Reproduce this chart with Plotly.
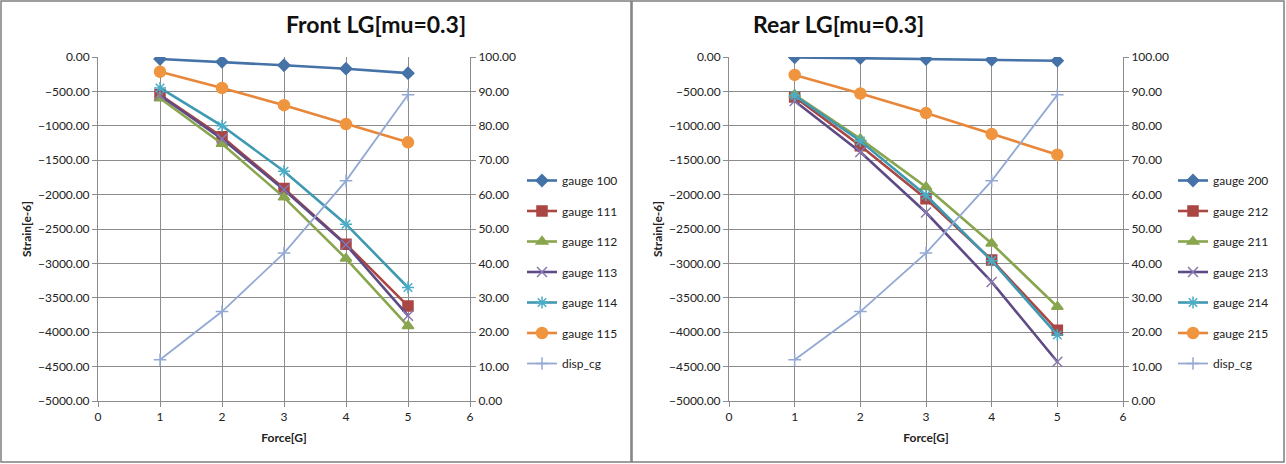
import plotly.graph_objects as go

W, H = 1286, 464

force = [1, 2, 3, 4, 5]

# Front LG
front_names = ["gauge 100", "gauge 111", "gauge 112", "gauge 113", "gauge 114", "gauge 115"]
front_g100 = [-30, -70, -120, -170, -235]
front_g111 = [-550, -1160, -1910, -2720, -3620]
front_g112 = [-600, -1260, -2040, -2930, -3910]
front_g113 = [-560, -1190, -1930, -2730, -3760]
front_g114 = [-450, -1000, -1660, -2430, -3350]
front_g115 = [-215, -450, -700, -975, -1240]
front_disp = [12, 26, 43, 64, 89]

# Rear LG
rear_names = ["gauge 200", "gauge 212", "gauge 211", "gauge 213", "gauge 214", "gauge 215"]
rear_g200 = [-5, -15, -30, -40, -55]
rear_g212 = [-580, -1290, -2060, -2950, -3970]
rear_g211 = [-550, -1190, -1890, -2710, -3630]
rear_g213 = [-640, -1380, -2260, -3270, -4430]
rear_g214 = [-560, -1220, -2010, -2960, -4040]
rear_g215 = [-260, -530, -815, -1120, -1420]
rear_disp = [12, 26, 43, 64, 89]

line_colors = ["#4572A7", "#AA4643", "#89A54E", "#5E4A85", "#3F99B1", "#E8873A"]
marker_colors = ["#4572A7", "#AA4643", "#89A54E", "#8A78B0", "#4BACC6", "#F0953F"]
symbols = ["diamond", "square", "triangle-up", "x-thin-open", "asterisk-open", "circle"]
sizes = [9, 10, 10, 10, 10, 11]
disp_color = "#93A9D3"

FONT = "Lato"

fig = go.Figure()


def add_chart(names, series, disp, xa, ya, ya2, legend):
    for i, (nm, vals) in enumerate(zip(names, series)):
        fig.add_trace(go.Scatter(
            x=force, y=vals, name=nm, mode="lines+markers",
            xaxis=xa, yaxis=ya, legend=legend, legendgroup=legend + nm,
            line=dict(color=line_colors[i], width=2.6),
            marker=dict(symbol=symbols[i], size=sizes[i], color=marker_colors[i],
                        line=dict(color=marker_colors[i], width=1.5)),
        ))
    fig.add_trace(go.Scatter(
        x=force, y=disp, name="disp_cg", mode="lines+markers",
        xaxis=xa, yaxis=ya2, legend=legend, legendgroup=legend + "disp",
        line=dict(color=disp_color, width=1.8),
        marker=dict(symbol="cross-thin-open", size=9, color=disp_color,
                    line=dict(color=disp_color, width=1.5)),
    ))


add_chart(front_names, [front_g100, front_g111, front_g112, front_g113, front_g114, front_g115],
          front_disp, "x", "y", "y2", "legend")
add_chart(rear_names, [rear_g200, rear_g212, rear_g211, rear_g213, rear_g214, rear_g215],
          rear_disp, "x2", "y3", "y4", "legend2")

grid = "#8C8C8C"
tickfont = dict(family=FONT, size=12, color="#222")
ytop, ybot = 1 - 57 / H, 1 - 401 / H


def xaxis(dom, anchor):
    return dict(domain=dom, anchor=anchor, range=[0, 6], dtick=1, tick0=0, automargin=False,
                showgrid=True, gridcolor=grid, gridwidth=1, zeroline=False,
                showline=True, linecolor=grid, linewidth=1,
                ticks="outside", ticklen=5, tickcolor=grid,
                tickfont=tickfont,
                title=dict(text="<b>Force[G]</b>", font=dict(family=FONT, size=12, color="#222"), standoff=10))


def yleft(anchor):
    return dict(domain=[ybot, ytop], anchor=anchor, range=[-5000, 0], dtick=500, automargin=False,
                tickformat=".2f", showgrid=True, gridcolor=grid, gridwidth=1,
                zeroline=False, showline=True, linecolor=grid, linewidth=1,
                ticks="outside", ticklen=5, tickcolor=grid, tickfont=tickfont,
                title=dict(text="<b>Strain[e-6]</b>", font=dict(family=FONT, size=12, color="#222"), standoff=3))


def yright(anchor, overlay):
    return dict(domain=[ybot, ytop], anchor=anchor, overlaying=overlay, side="right", automargin=False,
                range=[0, 100], dtick=10, tickformat=".2f", showgrid=False,
                zeroline=False, showline=True, linecolor=grid, linewidth=1,
                ticks="outside", ticklen=5, tickcolor=grid, tickfont=tickfont)


legend_common = dict(font=dict(family=FONT, size=12, color="#222"), tracegroupgap=11.5,
                     bgcolor="rgba(0,0,0,0)", itemwidth=30, xanchor="left", yanchor="top")

fig.update_layout(
    width=W, height=H, margin=dict(l=0, r=0, t=0, b=0, autoexpand=False),
    paper_bgcolor="white", plot_bgcolor="white",
    xaxis=xaxis([98 / W, 470 / W], "y"),
    yaxis=yleft("x"),
    yaxis2=yright("x", "y"),
    xaxis2=xaxis([729 / W, 1123 / W], "y3"),
    yaxis3=yleft("x2"),
    yaxis4=yright("x2", "y3"),
    legend=dict(x=522 / W, y=1 - 166 / H, **legend_common),
    legend2=dict(x=1173 / W, y=1 - 166 / H, **legend_common),
    annotations=[
        dict(text="<b>Front LG[mu=0.3]</b>", x=284 / W, y=1 - 24 / H, xref="paper", yref="paper",
             showarrow=False, font=dict(family=FONT, size=23, color="#111"), yanchor="middle"),
        dict(text="<b>Rear LG[mu=0.3]</b>", x=926 / W, y=1 - 24 / H, xref="paper", yref="paper",
             showarrow=False, font=dict(family=FONT, size=23, color="#111"), yanchor="middle"),
    ],
    shapes=[
        dict(type="rect", xref="paper", yref="paper", x0=1 / W, x1=631 / W, y0=1 - 462 / H, y1=1 - 1 / H,
             line=dict(color="#7F7F7F", width=1.5)),
        dict(type="rect", xref="paper", yref="paper", x0=632 / W, x1=1284 / W, y0=1 - 462 / H, y1=1 - 1 / H,
             line=dict(color="#7F7F7F", width=1.5)),
    ],
)

fig.write_html(
    "out.html",
    config={"displayModeBar": False},
    post_script="document.body.style.margin='0';document.body.style.overflow='hidden';",
)
